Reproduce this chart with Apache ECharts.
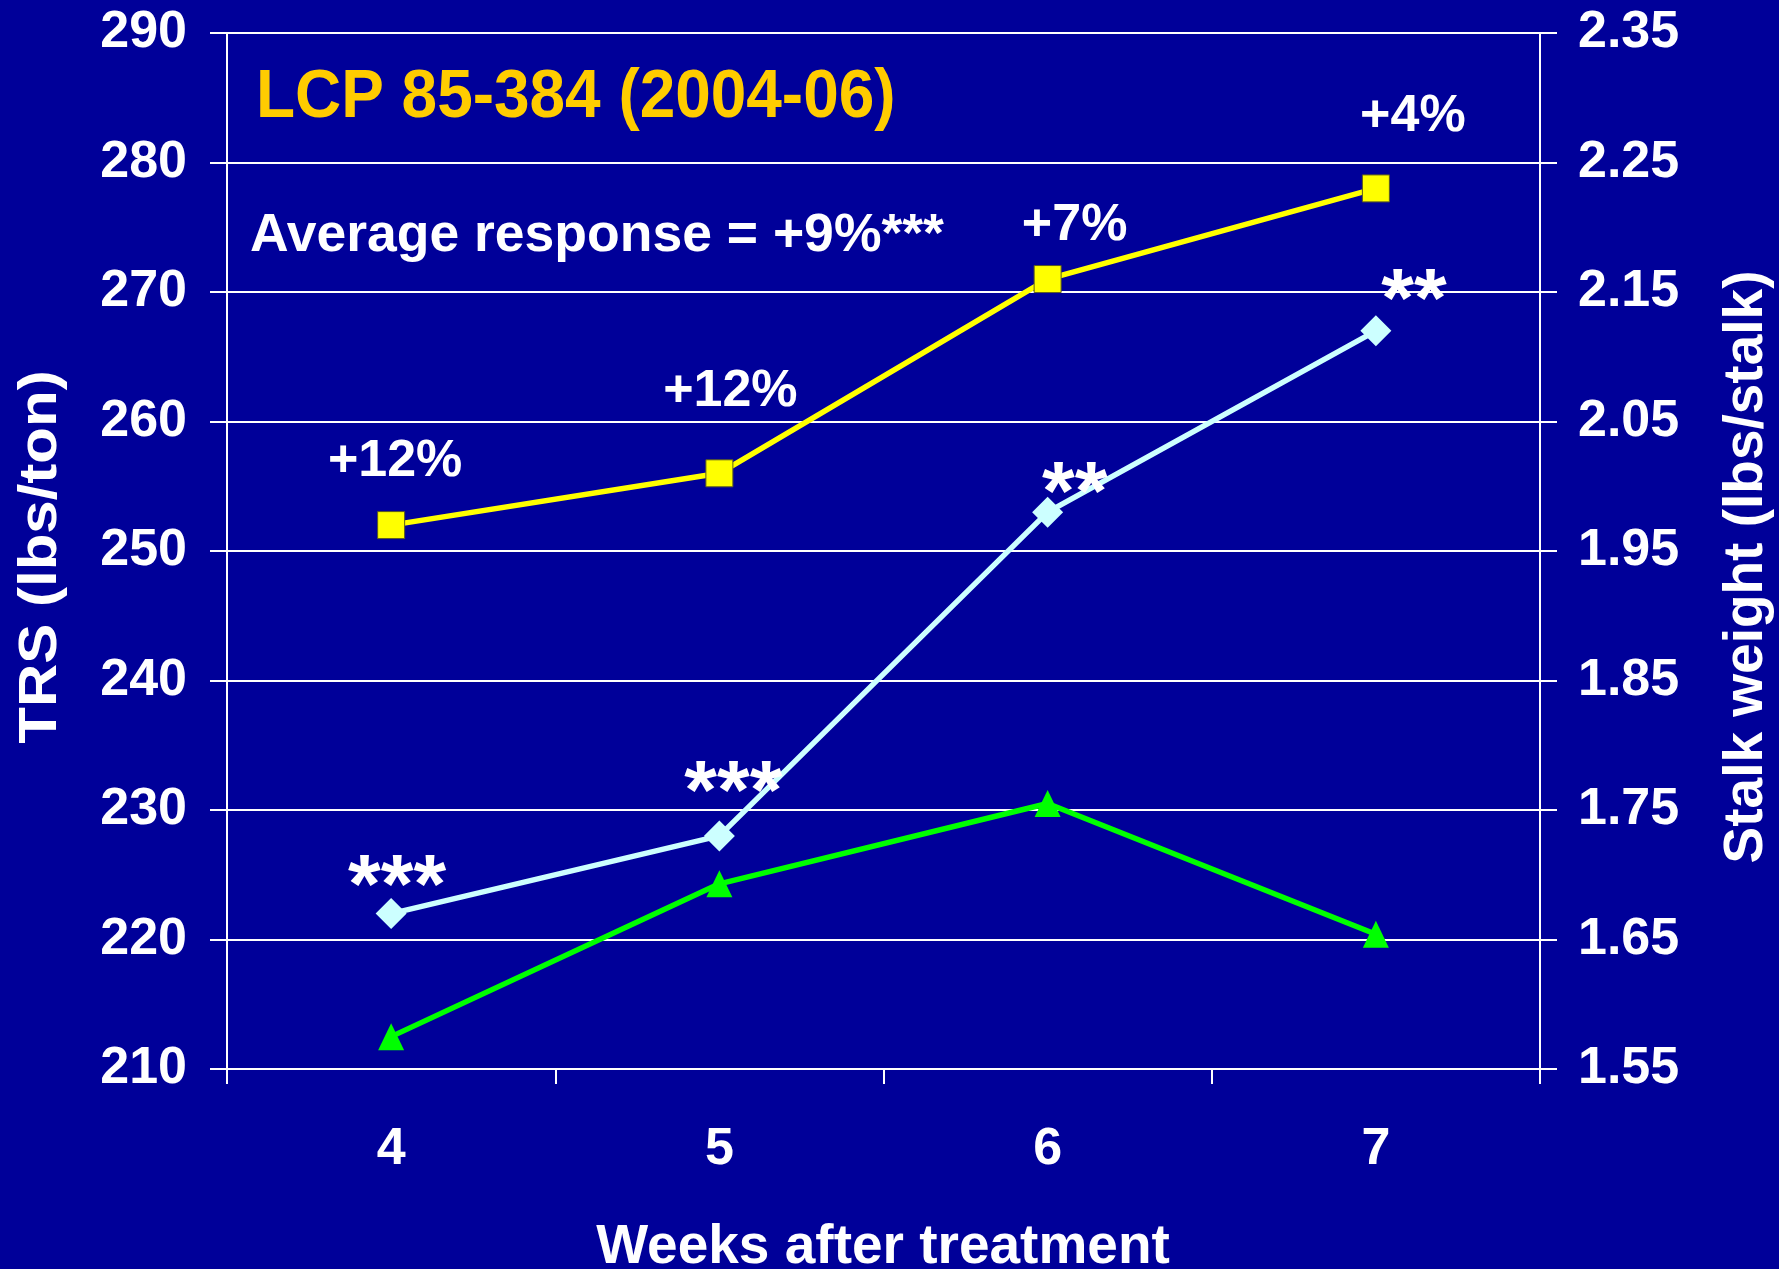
<!DOCTYPE html>
<html>
<head>
<meta charset="utf-8">
<title>LCP 85-384 (2004-06)</title>
<script src="https://cdn.jsdelivr.net/npm/echarts@6/dist/echarts.min.js"></script>
<style>
  html, body { margin: 0; padding: 0; width: 100%; height: 100%; overflow: hidden; background: #000099; }
  #chart { width: 100vw; height: 100vh; }
</style>
</head>
<body>
<div id="chart"></div>
<script>
// weeks after treatment
const weeks = ['4', '5', '6', '7']
// TRS (lbs/ton), left axis
const trsTreated = [252, 256, 271, 278]
const trsControl = [222, 228, 253, 267]
// stalk weight (lbs/stalk), right axis
const stalkWeight = [1.575, 1.693, 1.755, 1.654]
// text labels on the points
const responseLabels = ['+12%', '+12%', '+7%', '+4%']
const signifLabels = ['***', '***', '**', '**']
// axis ranges
const trsMin = 210, trsMax = 290, trsStep = 10
const swMin = 1.55, swMax = 2.35, swStep = 0.1

// label placement (px from the point), layout only
const responseOffset = [[4, -63], [11, -82], [27, -53], [37, -72]]
const signifOffset = [[6, -24], [14, -40], [27, -15], [38, -27]]

const font = '"Liberation Sans", Arial, sans-serif'
const white = '#FFFFFF'

const chart = echarts.init(document.getElementById('chart'))
const H = chart.getHeight()
const axisY = 1069 // y of the x axis line on the page

const axisLine = { show: true, onZero: false, lineStyle: { color: white, width: 2 } }
const axisTick = { show: true, length: 17, lineStyle: { color: white, width: 2 } }
const tickLabel = { color: white, fontSize: 52, fontWeight: 'bold', fontFamily: font }

chart.setOption({
  animation: false,
  backgroundColor: '#000099',
  grid: { left: 227, right: 239, top: 33, bottom: H - axisY, containLabel: false },
  graphic: [
    {
      type: 'text', left: 256, top: 64, z: 10, scaleX: 0.94,
      style: {
        text: 'LCP 85-384 (2004-06)', fill: '#FFCC00',
        font: 'bold 68px ' + font,
        textShadowColor: '#000000', textShadowOffsetX: 3, textShadowOffsetY: 3
      }
    },
    {
      type: 'text', left: 250, top: 209, z: 10,
      style: {
        text: 'Average response = +9%***', fill: white,
        font: 'bold 53.5px ' + font,
        textShadowColor: '#1a1a5a', textShadowOffsetX: 2, textShadowOffsetY: 2
      }
    },
    {
      // left axis title
      type: 'text', x: 41, y: 557, rotation: Math.PI / 2, scaleY: 0.9, z: 10,
      style: {
        text: 'TRS (lbs/ton)', fill: white, font: 'bold 60px ' + font,
        align: 'center', verticalAlign: 'middle'
      }
    },
    {
      // right axis title
      type: 'text', x: 1747, y: 567, rotation: Math.PI / 2, z: 10,
      style: {
        text: 'Stalk weight (lbs/stalk)', fill: white, font: 'bold 55px ' + font,
        align: 'center', verticalAlign: 'middle'
      }
    },
    {
      // x axis title
      type: 'text', x: 883, y: 1248, z: 10,
      style: {
        text: 'Weeks after treatment', fill: white, font: 'bold 55px ' + font,
        align: 'center', verticalAlign: 'middle'
      }
    }
  ],
  xAxis: {
    type: 'category',
    data: weeks,
    boundaryGap: true,
    axisLine: axisLine,
    axisTick: { show: true, length: 15, lineStyle: { color: white, width: 2 } },
    axisLabel: Object.assign({}, tickLabel, { margin: 55 }),
    splitLine: { show: false }
  },
  yAxis: [
    {
      type: 'value',
      position: 'left',
      min: trsMin, max: trsMax, interval: trsStep,
      axisLine: axisLine,
      axisTick: axisTick,
      axisLabel: Object.assign({}, tickLabel, { margin: 40 }),
      splitLine: { show: true, lineStyle: { color: white, width: 2 } }
    },
    {
      type: 'value',
      position: 'right',
      min: swMin, max: swMax, interval: swStep,
      axisLine: axisLine,
      axisTick: axisTick,
      axisLabel: Object.assign({}, tickLabel, {
        margin: 38,
        formatter: v => v.toFixed(2)
      }),
      splitLine: { show: false }
    }
  ],
  series: [
    {
      name: 'Stalk weight',
      type: 'line',
      yAxisIndex: 1,
      symbol: 'triangle',
      symbolSize: [26, 27],
      z: 2,
      lineStyle: { color: '#00FF00', width: 5.5 },
      itemStyle: { color: '#00FF00' },
      data: stalkWeight
    },
    {
      name: 'TRS control',
      type: 'line',
      yAxisIndex: 0,
      symbol: 'diamond',
      symbolSize: 31,
      z: 3,
      lineStyle: { color: '#CCFFFF', width: 5.5 },
      itemStyle: { color: '#CCFFFF' },
      label: {
        show: true,
        position: 'inside',
        color: white,
        fontSize: 84,
        fontWeight: 'bold',
        fontFamily: font,
        formatter: p => signifLabels[p.dataIndex]
      },
      data: trsControl.map((v, i) => ({ value: v, label: { offset: signifOffset[i] } }))
    },
    {
      name: 'TRS treated',
      type: 'line',
      yAxisIndex: 0,
      symbol: 'rect',
      symbolSize: 27,
      z: 4,
      lineStyle: { color: '#FFFF00', width: 5.5 },
      itemStyle: { color: '#FFFF00', borderColor: '#5a5a20', borderWidth: 1 },
      label: {
        show: true,
        position: 'inside',
        color: white,
        fontSize: 52,
        fontWeight: 'bold',
        fontFamily: font,
        textShadowColor: '#000000',
        textShadowOffsetX: 3,
        textShadowOffsetY: 3,
        formatter: p => responseLabels[p.dataIndex]
      },
      data: trsTreated.map((v, i) => ({ value: v, label: { offset: responseOffset[i] } }))
    }
  ]
})
</script>
</body>
</html>
